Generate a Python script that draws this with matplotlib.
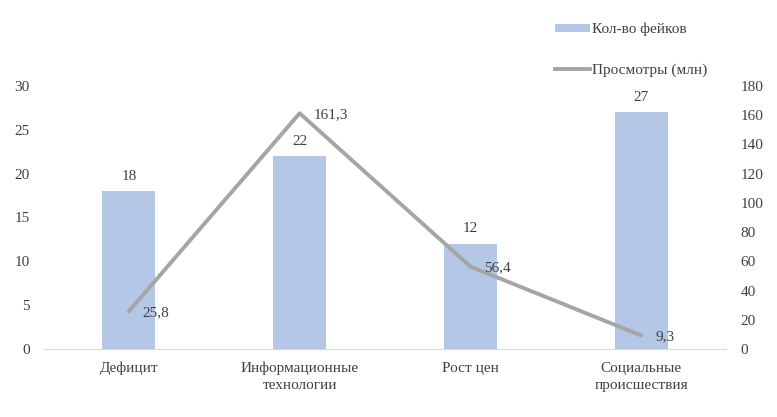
import matplotlib.pyplot as plt
import numpy as np
from matplotlib.lines import Line2D
from matplotlib.patches import Patch

plt.rcParams['font.family'] = ['Liberation Serif', 'DejaVu Serif']

categories = ['Дефицит', 'Информационные\nтехнологии', 'Рост цен', 'Социальные\nпроисшествия']
fakes = [18, 22, 12, 27]
views = [25.8, 161.3, 56.4, 9.3]

bar_color = '#B4C7E7'
line_color = '#A5A5A5'
text_color = '#404040'

fig = plt.figure(figsize=(7.77, 4.17), dpi=100)
ax = fig.add_axes([0.056, 0.163, 0.879, 0.631])
x = np.arange(len(categories))

ax.bar(x, fakes, width=0.31, color=bar_color, zorder=2)
ax.set_xlim(-0.5, len(categories) - 0.5)
ax.set_ylim(0, 30)
ax.set_yticks(range(0, 31, 5))
for xi, v in zip(x, fakes):
    ax.annotate(str(v), (xi, v), xytext=(0, 6), textcoords='offset points',
                ha='center', va='bottom', fontsize=11, color=text_color)

ax2 = ax.twinx()
ax2.plot(x, views, color=line_color, linewidth=2.8, solid_joinstyle='round',
         solid_capstyle='round', zorder=3)
ax2.set_ylim(0, 180)
ax2.set_yticks(range(0, 181, 20))
for xi, v in zip(x, views):
    ax2.annotate(f'{v}'.replace('.', ','), (xi, v), xytext=(10, -1), textcoords='offset points',
                 ha='left', va='center', fontsize=11, color=text_color)

ax.set_xticks(x)
ax.set_xticklabels(categories, linespacing=1.4)
for a in (ax, ax2):
    for s in a.spines.values():
        s.set_visible(False)
    a.tick_params(length=0, labelsize=11, labelcolor=text_color)
ax.spines['bottom'].set_visible(True)
ax.spines['bottom'].set_color('#D9D9D9')
ax.tick_params(axis='y', pad=10)
ax.tick_params(axis='x', pad=9)
ax2.tick_params(axis='y', pad=10)

handles = [Patch(facecolor=bar_color, edgecolor='none'),
           Line2D([0], [0], color=line_color, linewidth=2.8)]
fig.legend(handles, ['Кол-во фейков', 'Просмотры (млн)'],
           loc='upper left', bbox_to_anchor=(0.697, 0.978), frameon=False,
           fontsize=11, labelspacing=1.75, handlelength=2.3, handleheight=0.5,
           handletextpad=0.1, labelcolor=text_color)

fig.savefig('out.png', dpi=100)
